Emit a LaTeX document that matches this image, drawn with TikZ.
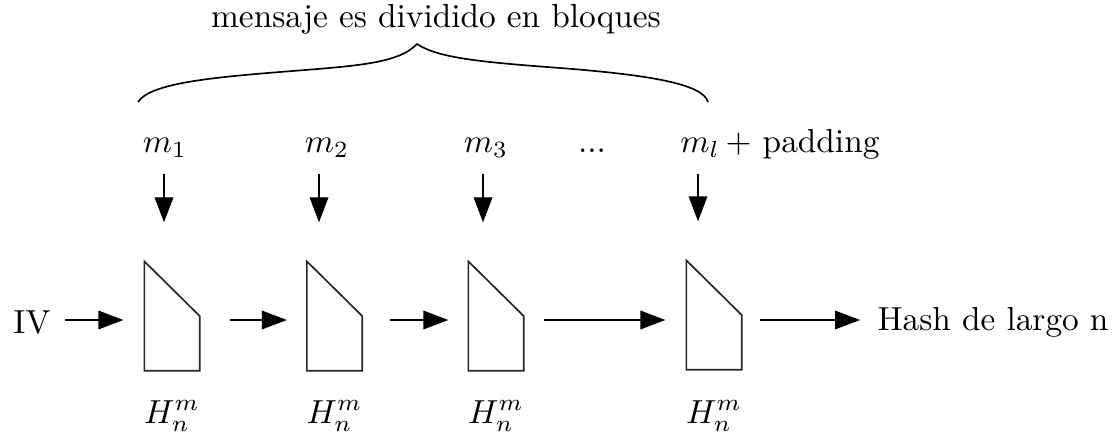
\documentclass[tikz,border=0pt]{standalone}
\usetikzlibrary{arrows.meta}
\begin{document}
\begin{tikzpicture}[x=0.3pt,y=-0.3pt,
  blk/.style={minimum width=16.2pt,minimum height=32.4pt,inner sep=0pt,draw=none},
  boxline/.style={line width=0.5pt,draw=black!85,line join=miter},
  arr/.style={line width=0.4pt,-{Triangle[length=7.5pt,width=5.6pt]}},
  lbl/.style={inner sep=0pt,anchor=base},
  brace/.style={line width=0.5pt}]
\useasboundingbox (0,0) rectangle (1114,437);
% title and brace
\node[lbl] (title) at (436,28) {mensaje es dividido en bloques};
\coordinate (bl) at (138,102);
\coordinate (bt) at (417,44);
\coordinate (br) at (708,102);
\draw[brace] (bl) .. controls (150,84) and (205,78) .. (280,72)
  .. controls (355,66) and (398,64) .. (bt)
  .. controls (438,58) and (480,62) .. (560,68)
  .. controls (650,75) and (703,84) .. (br);
% message blocks
\node[lbl] (m1) at (165,153) {$m_1$};
\node[lbl] (m2) at (327,153) {$m_2$};
\node[lbl] (m3) at (486,153) {$m_3$};
\node[lbl] (dots) at (592,153) {...};
\node[lbl] (ml) at (700,153) {$m_l$};
\node[lbl,anchor=base west] (pad) at (725,153) {+ padding};
% compression boxes
\node[blk] (b1) at (172,316) {};
\node[blk] (b2) at (334.5,316) {};
\node[blk] (b3) at (496,316) {};
\node[blk] (b4) at (714,315) {};
\foreach \b in {b1,b2,b3,b4}
  \draw[boxline] (\b.north west) -- (\b.east) -- (\b.south east) -- (\b.south west) -- cycle;
% H labels
\node[lbl] (h1) at (172,423) {$H_n^m$};
\node[lbl] (h2) at (334.5,423) {$H_n^m$};
\node[lbl] (h3) at (496,423) {$H_n^m$};
\node[lbl] (h4) at (714,423) {$H_n^m$};
% input / output
\node[inner sep=0pt] (iv) at (32,322) {IV};
\node[inner sep=0pt,anchor=west] (hash) at (877,322) {Hash de largo n};
% vertical arrows
\draw[arr,shorten <=4.5pt,shorten >=11.7pt] (m1.south -| 164,0) -- (b1.north -| 164,0);
\draw[arr,shorten <=4.5pt,shorten >=11.7pt] (m2.south -| 319,0) -- (b2.north -| 319,0);
\draw[arr,shorten <=4.5pt,shorten >=11.7pt] (m3.south -| 483,0) -- (b3.north -| 483,0);
\draw[arr,shorten <=4.5pt,shorten >=11.7pt] (ml.south -| 698,0) -- (b4.north -| 698,0);
% horizontal arrows
\draw[arr,shorten <=4.2pt,shorten >=6.3pt] (iv.east |- 0,320) -- (b1.west |- 0,320);
\draw[arr,shorten <=9pt,shorten >=6pt] (b1.east |- 0,320) -- (b2.west |- 0,320);
\draw[arr,shorten <=8.4pt,shorten >=6pt] (b2.east |- 0,320) -- (b3.west |- 0,320);
\draw[arr,shorten <=6pt,shorten >=6.3pt] (b3.east |- 0,320) -- (b4.west |- 0,320);
\draw[arr,shorten <=5.4pt,shorten >=5.1pt] (b4.east |- 0,320) -- (hash.west |- 0,320);
\end{tikzpicture}
\end{document}
